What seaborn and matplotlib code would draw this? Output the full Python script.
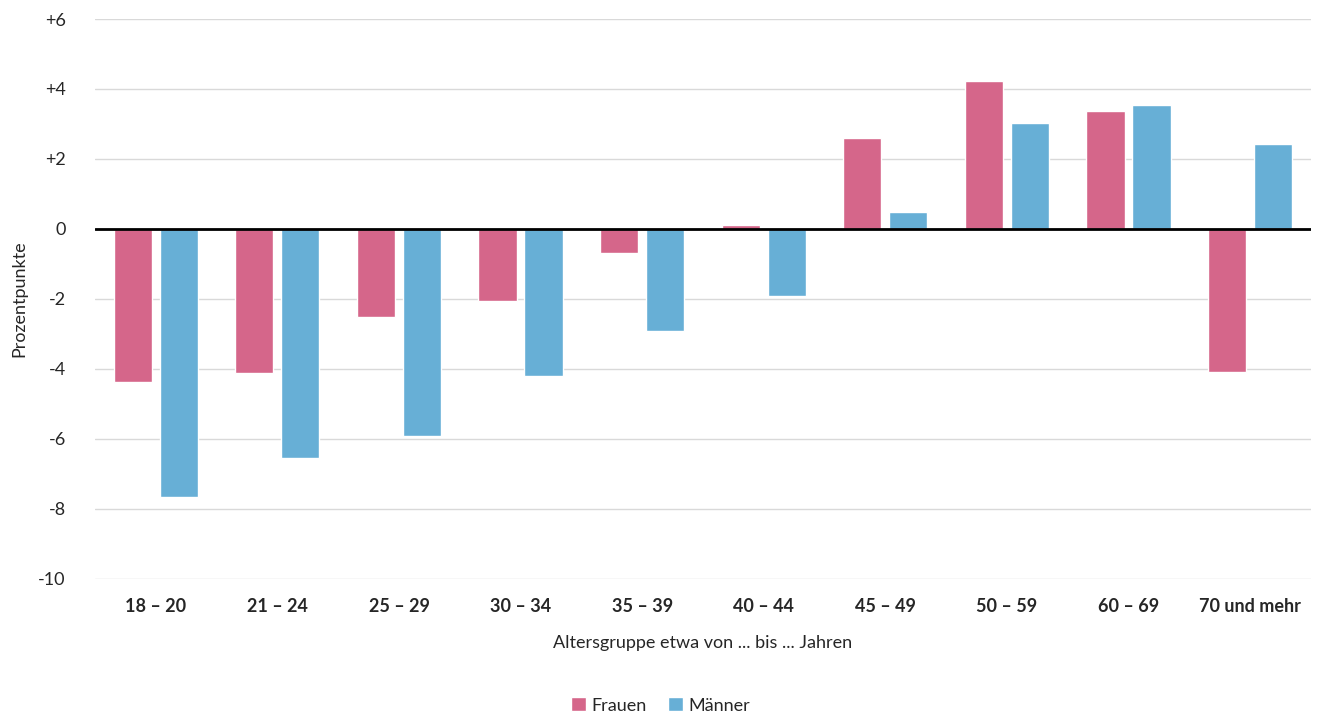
import matplotlib
matplotlib.use('Agg')
from matplotlib import pyplot as plt
import pandas as pd
import seaborn as sns

age_groups = ['18 – 20', '21 – 24', '25 – 29', '30 – 34', '35 – 39',
              '40 – 44', '45 – 49', '50 – 59', '60 – 69', '70 und mehr']
frauen = [-4.37, -4.11, -2.51, -2.06, -0.69, 0.11, 2.60, 4.23, 3.37, -4.09]
maenner = [-7.66, -6.54, -5.91, -4.20, -2.91, -1.91, 0.49, 3.03, 3.54, 2.43]
series = ['Frauen', 'Männer']
colors = ['#D5668A', '#67AFD6']
y_ticks = [6, 4, 2, 0, -2, -4, -6, -8, -10]

df = pd.DataFrame({
    'group': age_groups * 2,
    'value': frauen + maenner,
    'series': [series[0]] * len(age_groups) + [series[1]] * len(age_groups),
})

sns.set_style('white')
plt.rcParams['font.family'] = ['Lato', 'DejaVu Sans']

fig = plt.figure(figsize=(13.21, 7.17), dpi=100)
ax = fig.add_axes([0.0719, 0.1925, 0.9205, 0.781])

sns.barplot(data=df, x='group', y='value', hue='series', palette=colors,
            width=0.757, gap=0.17, saturation=1, ax=ax, legend=True, zorder=3)

ax.set_ylim(-10, 6)
ax.set_xlim(-0.5, len(age_groups) - 0.5)
ax.set_yticks(y_ticks)
ax.set_yticklabels([f'+{t}' if t > 0 else str(t) for t in y_ticks], fontsize=13)
ax.grid(axis='y', color='#D9D9D9', linewidth=1, zorder=0)
ax.axhline(0, color='black', linewidth=2, zorder=4)
for s in ax.spines.values():
    s.set_visible(False)
ax.tick_params(axis='both', length=0, pad=14)
ax.tick_params(axis='y', pad=21)
for lbl in ax.get_xticklabels():
    lbl.set_fontweight('bold')
    lbl.set_fontsize(13)

ax.set_xlabel('Altersgruppe etwa von ... bis ... Jahren', fontsize=13, labelpad=14)
ax.set_ylabel('Prozentpunkte', fontsize=13, labelpad=8)

handles, labels = ax.get_legend_handles_labels()
ax.get_legend().remove()
fig.legend(handles, labels, loc='lower center', ncol=2, frameon=False, fontsize=13,
           handlelength=0.8, handleheight=0.8, handletextpad=0.3, columnspacing=1.2,
           bbox_to_anchor=(0.5, -0.018))

fig.savefig('out.png', dpi=100)
